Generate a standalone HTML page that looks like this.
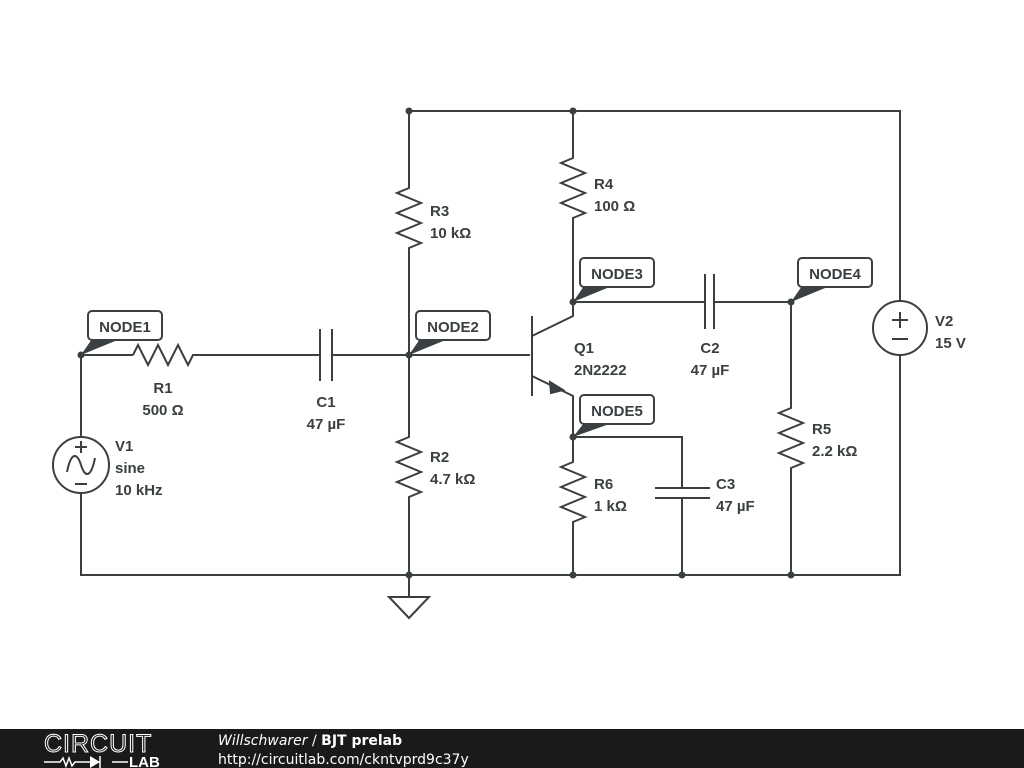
<!DOCTYPE html>
<html><head><style>
body{margin:0;width:1024px;height:768px;background:#fff;overflow:hidden;font-family:"Liberation Sans",sans-serif}
svg{position:absolute;left:0;top:0}
</style></head><body>
<svg width="1024" height="768" viewBox="0 0 1024 768">
<g fill="none" stroke="#3a3f42" stroke-width="2" stroke-linejoin="miter">
<!-- top wire -->
<path d="M409 111H900V301"/>
<path d="M900 355V575H81V493"/>
<path d="M81 437V355H133"/>
<!-- R1 -->
<path d="M133 355l5 -10l10 20l10 -20l10 20l10 -20l10 20l5 -10H320"/>
<!-- C1 -->
<path d="M320 329V381M332 329V381"/>
<path d="M332 355H530"/>
<!-- x=409 branch -->
<path d="M409 111V188l-12 5l24 10l-24 10l24 10l-24 10l24 10l-12 5V437l-12 5l24 10l-24 10l24 10l-24 10l24 10l-12 5V597"/>
<path d="M389 597H429L409 618Z"/>
<!-- transistor -->
<path d="M532 316V396"/>
<path d="M532 336L573 316V302"/>
<path d="M532 376L573 396V437"/>
<!-- collector -->
<path d="M573 111V158l-12 5l24 10l-24 10l24 10l-24 10l24 10l-12 5V302H705"/>
<path d="M705 274V329M714 274V329"/>
<path d="M714 302H791V408l-12 5l24 10l-24 10l24 10l-24 10l24 10l-12 5V575"/>
<!-- emitter -->
<path d="M573 437V462l-12 5l24 10l-24 10l24 10l-24 10l24 10l-12 5V575"/>
<path d="M573 437H682V488M655 488H710M655 498H710M682 498V575"/>
<!-- V1 -->
<circle cx="81" cy="465" r="28"/>
<path d="M81 441v12M75 447h12M75 484h12"/>
<path d="M67 472c4 -20 10 -20 14 -7s10 13 14 -7"/>
<!-- V2 -->
<circle cx="900" cy="328" r="27"/>
<path d="M900 312v16M892 320h16M892 339h16"/>
</g>
<path d="M550 382L563 390L551 393Z" fill="#3a3f42" stroke="#3a3f42" stroke-width="2"/>
<g fill="#3a3f42">
<circle cx="409" cy="111" r="3.5"/><circle cx="573" cy="111" r="3.5"/>
<circle cx="81" cy="355" r="3.5"/><circle cx="409" cy="355" r="3.5"/>
<circle cx="573" cy="302" r="3.5"/><circle cx="791" cy="302" r="3.5"/>
<circle cx="573" cy="437" r="3.5"/>
<circle cx="409" cy="575" r="3.5"/><circle cx="573" cy="575" r="3.5"/>
<circle cx="682" cy="575" r="3.5"/><circle cx="791" cy="575" r="3.5"/>
<!-- callout pointers -->
<path d="M81 355L92 339H120Z"/>
<path d="M409 355L420 339H448Z"/>
<path d="M573 302L584 286H612Z"/>
<path d="M791 302L802 286H830Z"/>
<path d="M573 437L584 423H612Z"/>
</g>
<g fill="#fff" stroke="#3a3f42" stroke-width="2">
<rect x="88" y="311" width="74" height="29" rx="4"/>
<rect x="416" y="311" width="74" height="29" rx="4"/>
<rect x="580" y="258" width="74" height="29" rx="4"/>
<rect x="798" y="258" width="74" height="29" rx="4"/>
<rect x="580" y="395" width="74" height="29" rx="4"/>
</g>
<g font-family="Liberation Sans, sans-serif" font-weight="bold" font-size="15" fill="#3a3f42">
<text x="125" y="332" text-anchor="middle">NODE1</text>
<text x="453" y="332" text-anchor="middle">NODE2</text>
<text x="617" y="279" text-anchor="middle">NODE3</text>
<text x="835" y="279" text-anchor="middle">NODE4</text>
<text x="617" y="416" text-anchor="middle">NODE5</text>
<text x="163" y="393" text-anchor="middle">R1</text><text x="163" y="415" text-anchor="middle">500 Ω</text>
<text x="326" y="407" text-anchor="middle">C1</text><text x="326" y="429" text-anchor="middle">47 µF</text>
<text x="115" y="451">V1</text><text x="115" y="473">sine</text><text x="115" y="495">10 kHz</text>
<text x="430" y="216">R3</text><text x="430" y="238">10 kΩ</text>
<text x="430" y="462">R2</text><text x="430" y="484">4.7 kΩ</text>
<text x="594" y="189">R4</text><text x="594" y="211">100 Ω</text>
<text x="574" y="353">Q1</text><text x="574" y="375">2N2222</text>
<text x="710" y="353" text-anchor="middle">C2</text><text x="710" y="375" text-anchor="middle">47 µF</text>
<text x="594" y="489">R6</text><text x="594" y="511">1 kΩ</text>
<text x="716" y="489">C3</text><text x="716" y="511">47 µF</text>
<text x="812" y="434">R5</text><text x="812" y="456">2.2 kΩ</text>
<text x="935" y="326">V2</text><text x="935" y="348">15 V</text>
</g>
<!-- footer -->
<rect x="0" y="729" width="1024" height="39" fill="#1a1a1a"/>
<text x="44" y="752" font-family="Liberation Sans, sans-serif" font-size="25" fill="none" stroke="#fff" stroke-width="1" letter-spacing="1">CIRCUIT</text>
<g stroke="#fff" stroke-width="1.5" fill="none">
<path d="M44 762H60l3 -4l3 8l3 -8l3 8l3 -4H100"/>
<path d="M100 756v12M112 762H128"/>
</g>
<path d="M90 756L100 762L90 768Z" fill="#fff"/>
<text x="129" y="767" font-family="Liberation Sans, sans-serif" font-weight="bold" font-size="15" fill="#fff">LAB</text>
<text x="218" y="745" font-family="DejaVu Sans, sans-serif" font-size="14" fill="#fff"><tspan font-style="italic">Willschwarer</tspan> / <tspan font-weight="bold">BJT prelab</tspan></text>
<text x="218" y="764" font-family="DejaVu Sans, sans-serif" font-size="14" fill="#fff">http://circuitlab.com/ckntvprd9c37y</text>
</svg>
</body></html>
